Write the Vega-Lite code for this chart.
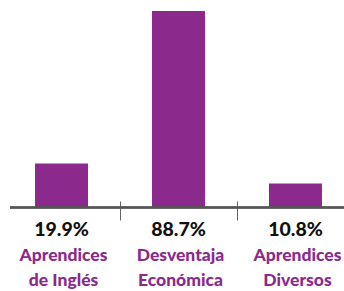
{
  "$schema": "https://vega.github.io/schema/vega-lite/v6.json",
  "width": 337,
  "height": 291,
  "autosize": "none",
  "padding": {"left": 10, "top": 0, "right": 0, "bottom": 0},
  "background": "white",
  "config": {"view": {"stroke": null}},
  "data": {"values": [
    {"cat": "Aprendices de Inglés", "value": 19.9, "pct": "19.9%", "name": "Aprendices\nde Inglés"},
    {"cat": "Desventaja Económica", "value": 88.7, "pct": "88.7%", "name": "Desventaja\nEconómica"},
    {"cat": "Aprendices Diversos", "value": 10.8, "pct": "10.8%", "name": "Aprendices\nDiversos"}
  ]},
  "layer": [
    {
      "mark": {"type": "bar", "color": "#8B2A8C"},
      "encoding": {
        "x": {"field": "cat", "type": "nominal", "sort": null,
          "scale": {"paddingInner": 0.547, "paddingOuter": 0.214},
          "axis": {"title": null, "labels": false, "domain": false, "offset": -90, "tickSize": 19, "tickColor": "#666", "tickWidth": 1,
            "values": ["Desventaja Económica", "Aprendices Diversos"], "bandPosition": -0.6}},
        "y": {"field": "value", "type": "quantitative", "scale": {"domain": [-37.7, 93.7], "nice": false, "zero": false}, "axis": null},
        "y2": {"datum": 0}
      }
    },
    {
      "mark": {"type": "rule", "color": "#555555", "strokeWidth": 2},
      "encoding": {"y": {"datum": 0}}
    },
    {
      "mark": {"type": "text", "font": "Lato", "fontWeight": 900, "fontSize": 19.5, "color": "#111111", "baseline": "alphabetic", "align": "center"},
      "encoding": {
        "x": {"field": "cat", "type": "nominal", "sort": null},
        "y": {"datum": -12.7},
        "text": {"field": "pct"}
      }
    },
    {
      "mark": {"type": "text", "font": "Lato", "fontWeight": 900, "fontSize": 17.5, "color": "#8B2A8C", "baseline": "alphabetic", "align": "center", "lineBreak": "\n", "lineHeight": 25, "dx": 2},
      "encoding": {
        "x": {"field": "cat", "type": "nominal", "sort": null},
        "y": {"datum": -24.2},
        "text": {"field": "name"}
      }
    }
  ]
}
